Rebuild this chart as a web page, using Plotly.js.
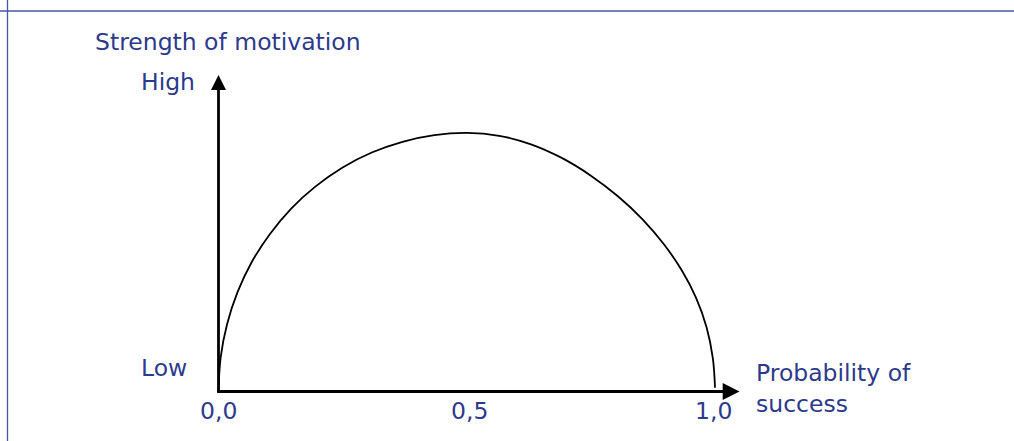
<!DOCTYPE html>
<html>
<head>
<meta charset="utf-8">
<script src="https://cdn.plot.ly/plotly-3.0.1.min.js"></script>
<style>html,body{margin:0;padding:0;background:#fff;overflow:hidden}#chart{width:1014px;height:441px}</style>
</head>
<body>
<div id="chart"></div>
<script>
// Probability of success (x) vs strength of motivation (y, 0 = Low, 1 = High)
const probability = [0, 0.0043, 0.0170, 0.0381, 0.0670, 0.1033, 0.1464, 0.1956, 0.2500, 0.3087, 0.3706, 0.4347, 0.5000, 0.5653, 0.6294, 0.6913, 0.7500, 0.8044, 0.8536, 0.8967, 0.9330, 0.9619, 0.9830, 0.9957, 1.0000];
const motivation  = [0, 0.107, 0.211, 0.313, 0.409, 0.497, 0.578, 0.648, 0.708, 0.755, 0.789, 0.810, 0.817, 0.808, 0.781, 0.738, 0.682, 0.617, 0.545, 0.466, 0.383, 0.296, 0.203, 0.105, 0.012];
const xTickValues = [0, 0.5, 1];
const xTickLabels = ['0,0', '0,5', '1,0'];
const yLabels = ['Low', 'High'];
const yTitle = 'Strength of motivation';
const xTitle = 'Probability of<br>success';

const W = 1014, H = 441;
const textColor = 'rgb(44,58,140)';
const fontFamily = '"DejaVu Sans", Verdana, sans-serif';
const borderColor = 'rgb(72,86,165)';

const trace = {
  x: probability, y: motivation, type: 'scatter', mode: 'lines',
  line: {color: '#000', width: 1.8, shape: 'spline', smoothing: 1, simplify: false},
  hoverinfo: 'skip', showlegend: false
};

const xr = [-0.44008, 1.60222];
const yr = [-0.15640, 1.23697];
const pxX = 1 / 496.5, pxY = 1 / 316.5;

const shapes = [
  // frame lines
  {type: 'line', xref: 'paper', yref: 'paper', x0: 0, x1: 1, y0: 1 - 11 / H, y1: 1 - 11 / H, line: {color: borderColor, width: 1.3}},
  {type: 'line', xref: 'paper', yref: 'paper', x0: 7.5 / W, x1: 7.5 / W, y0: 0, y1: 1, line: {color: borderColor, width: 1.3}},
  // y axis
  {type: 'line', xref: 'x', yref: 'y', x0: 0, x1: 0, y0: 0, y1: 1 - 12 * pxY, line: {color: '#000', width: 2.8}},
  {type: 'path', xref: 'x', yref: 'y', path: `M ${-7.5 * pxX} ${1 - 15 * pxY} L 0 1 L ${7.5 * pxX} ${1 - 15 * pxY} Z`, fillcolor: '#000', line: {width: 0}},
  // x axis
  {type: 'line', xref: 'x', yref: 'y', x0: -1.4 * pxX, x1: 1.015 + 3 * pxX, y0: 0, y1: 0, line: {color: '#000', width: 2.8}},
  {type: 'path', xref: 'x', yref: 'y', path: `M ${1.0155} ${8.5 * pxY} L ${1.0493} 0 L ${1.0155} ${-8.5 * pxY} Z`, fillcolor: '#000', line: {width: 0}}
];

const font = {family: fontFamily, size: 23.5, color: textColor};
const annotations = [];
xTickValues.forEach((v, i) => {
  annotations.push({x: v, y: 0, xref: 'x', yref: 'y', text: xTickLabels[i], showarrow: false,
    xanchor: 'center', yanchor: 'middle', yshift: -19, xshift: (i === 1 ? 3 : (i === 2 ? -2 : 0)), font: font});
});
annotations.push({x: 0, y: 0, xref: 'x', yref: 'y', text: yLabels[0], showarrow: false, xanchor: 'right', yanchor: 'middle', xshift: -30, yshift: 24, font: font});
annotations.push({x: 0, y: 1, xref: 'x', yref: 'y', text: yLabels[1], showarrow: false, xanchor: 'right', yanchor: 'middle', xshift: -22, yshift: -7, font: font});
annotations.push({x: 0, y: 1, xref: 'x', yref: 'y', text: yTitle, showarrow: false, xanchor: 'left', yanchor: 'middle', xshift: -126, yshift: 33, font: font});
annotations.push({x: 1, y: 0, xref: 'x', yref: 'y', text: xTitle, showarrow: false, xanchor: 'left', yanchor: 'middle', align: 'left', xshift: 39, yshift: 3, font: font});

const layout = {
  width: W, height: H,
  margin: {l: 0, r: 0, t: 0, b: 0, pad: 0},
  paper_bgcolor: '#fff', plot_bgcolor: '#fff',
  xaxis: {range: xr, visible: false, fixedrange: true},
  yaxis: {range: yr, visible: false, fixedrange: true},
  shapes: shapes, annotations: annotations, showlegend: false
};

Plotly.newPlot('chart', [trace], layout, {displayModeBar: false, staticPlot: true});
</script>
</body>
</html>
